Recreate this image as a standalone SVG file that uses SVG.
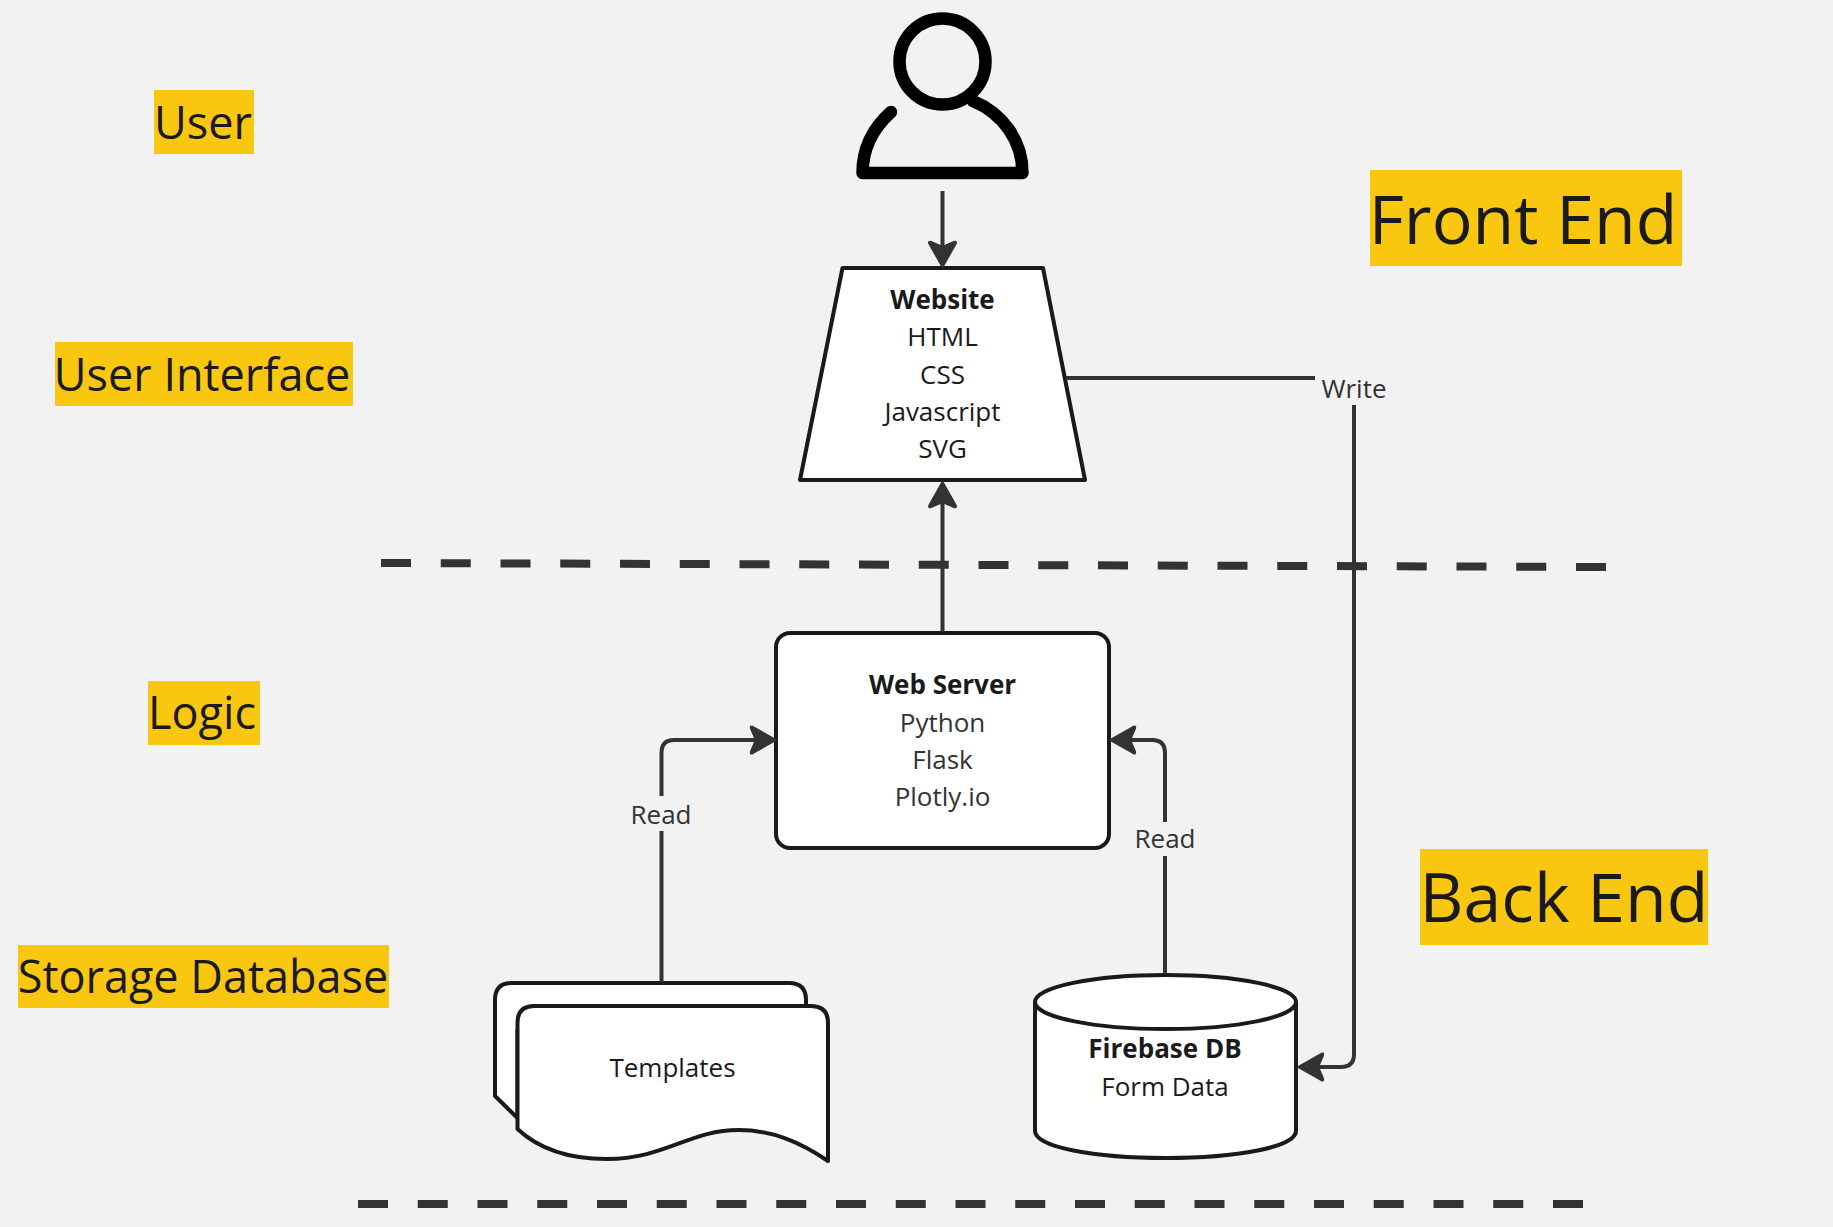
<svg xmlns="http://www.w3.org/2000/svg" width="1833" height="1227" viewBox="0 0 1833 1227">
<style>
text{font-family:"Open Sans","Noto Sans",sans-serif;text-anchor:middle;fill:#1a1a1a}
.node{font-size:26px}
.b{font-weight:700}
.s{fill:#333}
.lbl{font-size:26px;fill:#333}
.t{font-size:45px}
.big{font-size:68px}
.y{fill:#fac710}
.shape{fill:#fff;stroke:#1a1a1a;stroke-width:4;stroke-linejoin:round}
.c{fill:none;stroke:#333;stroke-width:4}
.d{fill:none;stroke:#333;stroke-width:8;stroke-dasharray:30 29.750}
</style>
<defs>
<marker id="a" markerUnits="userSpaceOnUse" markerWidth="36" markerHeight="36" viewBox="0 0 36 36" refX="26" refY="18" orient="auto">
<path d="M29 18L6 5Q3 3.500 4 6.500L9 18L4 29.500Q3 32.500 6 31Z" fill="#333" stroke="#333" stroke-width="2" stroke-linejoin="round"/>
</marker>
</defs>
<rect width="1833" height="1227" fill="#f2f2f2"/>
<g id="dividers">
<path class="d" d="M381 563L1606 567"/>
<path class="d" d="M358 1204H1584"/>
</g>
<g id="label-user"><rect class="y" x="154" y="90" width="100" height="64"/><text class="t" x="203" y="139">User</text></g>
<g id="label-ui"><rect class="y" x="55" y="342" width="298" height="64"/><text class="t" x="202" y="391">User Interface</text></g>
<g id="label-logic"><rect class="y" x="148" y="681" width="112" height="64"/><text class="t" x="202" y="729">Logic</text></g>
<g id="label-storage"><rect class="y" x="18" y="945" width="371" height="63"/><text class="t" x="203" y="993">Storage Database</text></g>
<g id="label-frontend"><rect class="y" x="1370" y="170" width="312" height="96"/><text class="big" x="1523" y="244">Front End</text></g>
<g id="label-backend"><rect class="y" x="1420" y="849" width="288" height="96"/><text class="big" x="1564" y="922">Back End</text></g>
<g id="user" fill="none" stroke="#000" stroke-width="12.500" stroke-linecap="round" stroke-linejoin="round">
<circle cx="942.500" cy="61.500" r="43"/>
<path d="M891 112C872 129 862.500 150 862.500 173H1022.500C1022.500 140 1002 113 973 101"/>
</g>
<g id="website"><path class="shape" d="M842.500 268H1043L1085 480H800Z"/>
<text class="node b" x="942.500" y="309">Website</text><text class="node" x="942.500" y="345.500">HTML</text><text class="node" x="942.500" y="383.500">CSS</text><text class="node" x="942.500" y="420.500">Javascript</text><text class="node" x="942.500" y="457.500">SVG</text></g>
<g id="webserver"><rect class="shape" x="776" y="633" width="333" height="215" rx="14"/>
<text class="node b" x="942.500" y="694">Web Server</text><text class="node s" x="942.500" y="732">Python</text><text class="node s" x="942.500" y="769">Flask</text><text class="node s" x="942.500" y="805.500">Plotly.io</text></g>
<g id="templates">
<path class="shape" d="M495 1096V1000Q495 983 512 983H789Q806 983 806 1000V1030H517.500V1118Z"/>
<path class="shape" d="M517.500 1129V1023Q517.500 1006 534 1006H811Q828 1006 828 1023V1161C800 1142 772 1130 738.500 1130C690 1130 665 1159 606.500 1159C570 1159 540 1150 517.500 1129Z"/>
<text class="node" x="672.500" y="1077">Templates</text></g>
<g id="firebase">
<path class="shape" d="M1035 1002V1131C1035 1147 1094 1158 1165.500 1158C1237 1158 1296 1147 1296 1131V1002Z"/>
<ellipse class="shape" cx="1165.500" cy="1002" rx="130.500" ry="27"/>
<text class="node b" x="1165" y="1058">Firebase DB</text><text class="node" x="1165" y="1095.500">Form Data</text></g>
<g id="connectors">
<path class="c" marker-end="url(#a)" d="M942.500 191V264"/>
<path class="c" marker-end="url(#a)" d="M942.500 632V485"/>
<path class="c" d="M1066 378H1315"/>
<path class="c" marker-end="url(#a)" d="M1354 405V1054Q1354 1067 1341 1067H1301"/>
<path class="c" d="M661.500 982V831"/>
<path class="c" marker-end="url(#a)" d="M661.500 796V753Q661.500 740 674 740H773"/>
<path class="c" d="M1165 974V856"/>
<path class="c" marker-end="url(#a)" d="M1165 822V753Q1165 740 1152 740H1113"/>
<text class="lbl" x="1354" y="397.500">Write</text>
<text class="lbl" x="661" y="824">Read</text>
<text class="lbl" x="1165" y="848">Read</text>
</g>
</svg>
